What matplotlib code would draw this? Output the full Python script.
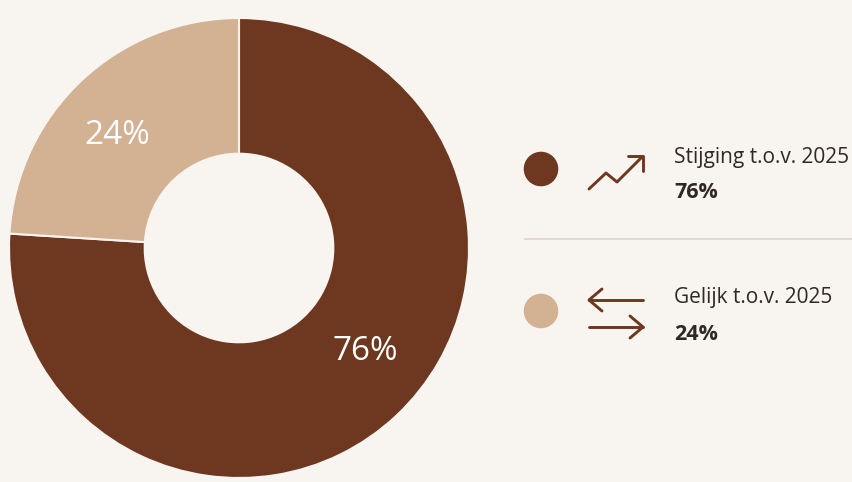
import matplotlib
matplotlib.use('Agg')
import matplotlib.pyplot as plt

labels = ['Stijging t.o.v. 2025', 'Gelijk t.o.v. 2025']
values = [76, 24]
colors = ['#6e3720', '#d3b193']

bg = '#f8f4ef'
dark = '#6e3720'
text_col = '#2f2825'

plt.rcParams['font.family'] = ['Open Sans', 'DejaVu Sans']

fig = plt.figure(figsize=(8.53, 4.82), dpi=100, facecolor=bg)

# donut: centre ~ (239, 248) px, outer radius ~230 px
W, H = 853, 482
cx, cy, r = 239, 248, 230
ax = fig.add_axes([(cx - r) / W, (H - cy - r) / H, 2 * r / W, 2 * r / H])
ax.set_facecolor(bg)
ax.pie(values, colors=colors, startangle=90, counterclock=False, radius=1,
       wedgeprops=dict(width=0.59, edgecolor=bg, linewidth=1.5))
ax.set_xlim(-1, 1)
ax.set_ylim(-1, 1)
ax.set_aspect('equal')
ax.axis('off')

ax.text(0.548, -0.452, f'{values[0]}%', color='white', fontsize=24,
        ha='center', va='center')
ax.text(-0.53, 0.49, f'{values[1]}%', color='white', fontsize=24,
        ha='center', va='center')

# legend area in pixel coordinates
lg = fig.add_axes([0, 0, 1, 1], facecolor='none')
lg.set_xlim(0, W)
lg.set_ylim(H, 0)
lg.axis('off')

lg.scatter([541, 541], [169, 311], s=[570, 570], color=colors, zorder=3)

# trend icon
lw = 2.1
lg.plot([589, 606, 617, 642], [189, 173, 182, 157], color=dark, lw=lw,
        solid_capstyle='round', solid_joinstyle='round')
lg.plot([628, 643, 643], [156, 156, 171], color=dark, lw=lw,
        solid_capstyle='round', solid_joinstyle='round')

# exchange icon
lg.plot([589, 643], [300, 300], color=dark, lw=lw, solid_capstyle='round')
lg.plot([602, 589, 602], [289, 300, 311], color=dark, lw=lw,
        solid_capstyle='round', solid_joinstyle='round')
lg.plot([589, 643], [327, 327], color=dark, lw=lw, solid_capstyle='round')
lg.plot([630, 643, 630], [316, 327, 338], color=dark, lw=lw,
        solid_capstyle='round', solid_joinstyle='round')

# separator
lg.plot([525, 853], [239, 239], color='#e4d7c5', lw=1.3)

for y, lab, v in [(157, labels[0], values[0]), (298, labels[1], values[1])]:
    lg.text(674, y, lab, color=text_col, fontsize=15, ha='left', va='center')
    lg.text(674, y + 36, f'{v}%', color=text_col, fontsize=15.5,
            fontweight='bold', ha='left', va='center')

fig.savefig('out.png', dpi=100, facecolor=bg)
